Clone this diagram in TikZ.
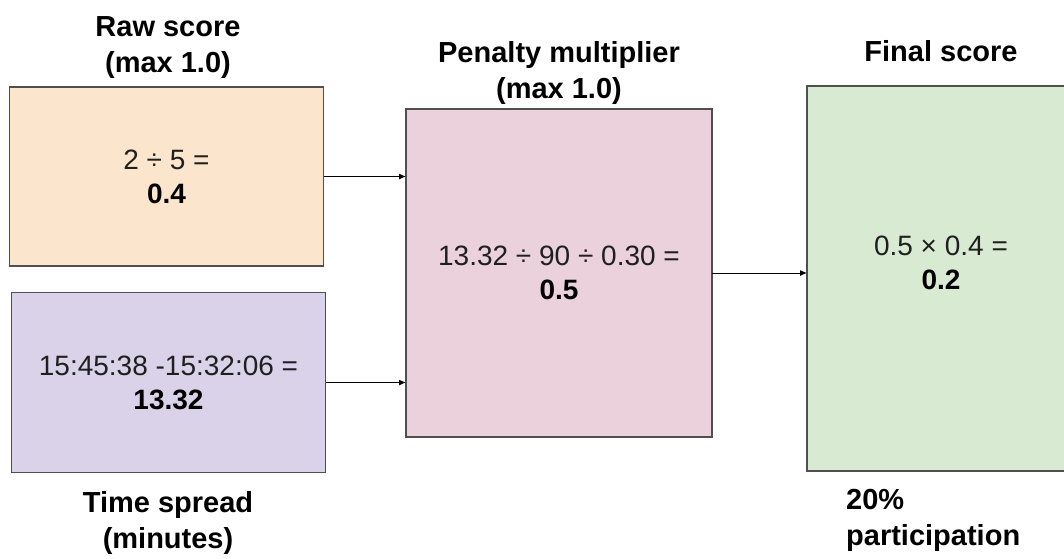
\documentclass[tikz,border=0pt]{standalone}
\usepackage{fontspec}
\setmainfont{Liberation Sans}
\usetikzlibrary{arrows.meta}

\definecolor{rawfill}{HTML}{FCE5CD}
\definecolor{timefill}{HTML}{D9D2E9}
\definecolor{penfill}{HTML}{EAD1DC}
\definecolor{finfill}{HTML}{D9EAD3}
\definecolor{boxline}{HTML}{4F4F4F}
\definecolor{bodytext}{HTML}{1F1F1F}

\newcommand{\res}[1]{{\bfseries\color{black}#1}}

\begin{document}
\begin{tikzpicture}[x=1pt,y=-1pt,
  box/.style={draw=boxline, line width=1.3pt, inner sep=0pt, outer sep=0pt,
    align=center, text=bodytext, font=\fontsize{28}{34}\selectfont},
  caption/.style={inner sep=0pt, text=black,
    font=\fontsize{29}{36}\selectfont\bfseries},
  link/.style={-{Latex[length=7pt,width=6pt]}, line width=1pt, draw=black}]

\useasboundingbox (0,0) rectangle (1064,558);

\begin{scope}
  \clip (0,0) rectangle (1064,558);
  % input boxes
  \node[box, fill=rawfill, minimum width=314, minimum height=179]
    (raw) at (166.5,176.5) {2 ÷ 5 =\\\res{0.4}};
  \node[box, fill=timefill, minimum width=314, minimum height=180]
    (time) at (168.5,382.5) {15:45:38 -15:32:06 =\\\res{13.32}};
  % penalty box
  \node[box, fill=penfill, minimum width=306, minimum height=328]
    (pen) at (559,273) {13.32 ÷ 90 ÷ 0.30 =\\\res{0.5}};
  % final box (runs past the right edge)
  \node[box, fill=finfill, minimum width=268, minimum height=385]
    (fin) at (941,278.5) {};
\end{scope}

\node[inner sep=0pt, align=center, text=bodytext,
  font=\fontsize{28}{34}\selectfont] (fintext) at (941,262.5)
  {0.5 × 0.4 =\\\res{0.2}};

% captions
\node[caption, align=center] (rawcap) at (168,47.2) {Raw score\\(max 1.0)};
\node[caption, align=center] (timecap) at (168,522.6) {Time spread\\(minutes)};
\node[caption, align=center] (pencap) at (559,72.6) {Penalty multiplier\\(max 1.0)};
\node[caption, anchor=base] (fincap) at (941,61.7) {Final score};
\node[caption, align=left, anchor=west] (partcap) at (846,520.5) {20\%\\participation};

% connectors
\draw[link] (raw.east) -- (raw.east -| pen.west);
\draw[link] (time.east) -- (time.east -| pen.west);
\draw[link] (pen.east) -- (pen.east -| fin.west);
\end{tikzpicture}
\end{document}
